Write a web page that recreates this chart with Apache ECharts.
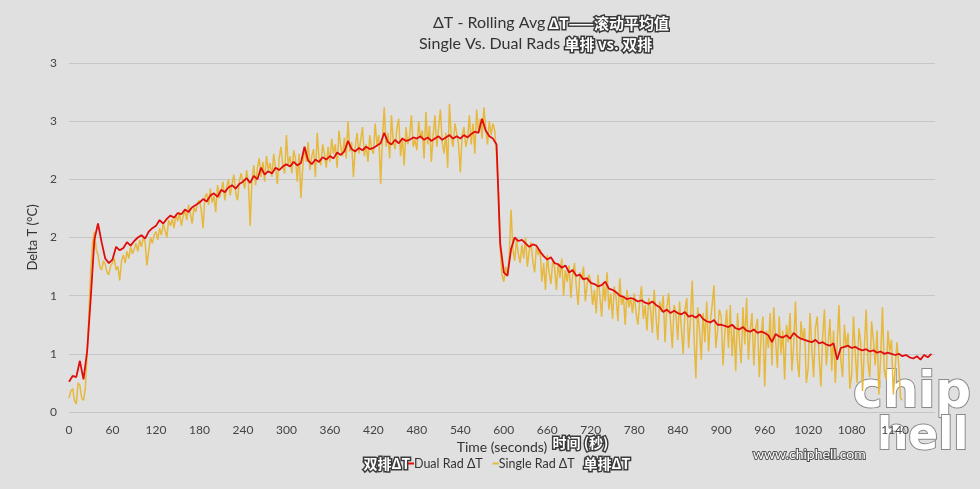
<!DOCTYPE html>
<html>
<head>
<meta charset="utf-8">
<script src="https://cdn.jsdelivr.net/npm/echarts@6/dist/echarts.min.js"></script>
<style>
html,body{margin:0;padding:0;background:#e0e0e0;}
#chart{width:980px;height:489px;}
</style>
</head>
<body>
<div id="chart"></div>
<script>
// Sampling steps, in seconds
const DUAL_STEP = 5;
const SINGLE_STEP = 2.5;
const xTicks = [0,60,120,180,240,300,360,420,480,540,600,660,720,780,840,900,960,1020,1080,1140];
const seriesNames = ['Dual Rad ΔT', 'Single Rad ΔT'];

// Dual Rad ΔT (rolling avg), every 5 s from 0 s (one row = one minute)
const dualRad = [
  0.26,0.31,0.30,0.44,0.28,0.52,0.98,1.48,1.62,1.46,1.32,1.28,
  1.31,1.42,1.39,1.41,1.46,1.43,1.47,1.50,1.52,1.49,1.55,1.58,
  1.60,1.65,1.62,1.66,1.69,1.67,1.71,1.70,1.74,1.72,1.76,1.78,
  1.80,1.83,1.81,1.86,1.88,1.85,1.91,1.89,1.93,1.95,1.92,1.96,
  1.98,2.01,1.97,2.03,2.00,2.10,2.04,2.07,2.05,2.10,2.08,2.11,
  2.13,2.11,2.15,2.12,2.14,2.28,2.16,2.13,2.17,2.15,2.19,2.17,
  2.20,2.18,2.23,2.21,2.24,2.33,2.26,2.24,2.27,2.25,2.28,2.26,
  2.27,2.29,2.31,2.40,2.32,2.30,2.34,2.31,2.35,2.33,2.34,2.36,
  2.35,2.37,2.34,2.36,2.33,2.35,2.37,2.34,2.36,2.38,2.35,2.37,
  2.35,2.38,2.36,2.39,2.41,2.40,2.52,2.42,2.37,2.35,2.30,1.45,
  1.20,1.17,1.40,1.50,1.47,1.48,1.45,1.42,1.44,1.43,1.38,1.34,
  1.31,1.33,1.28,1.27,1.24,1.26,1.20,1.22,1.17,1.18,1.14,1.15,
  1.11,1.10,1.08,1.09,1.12,1.06,1.05,1.03,1.00,0.99,0.97,0.98,
  0.97,0.95,0.96,0.94,0.93,0.95,0.92,0.90,0.86,0.88,0.85,0.87,
  0.85,0.84,0.86,0.82,0.83,0.81,0.84,0.80,0.78,0.77,0.79,0.75,
  0.75,0.74,0.73,0.75,0.72,0.71,0.73,0.70,0.69,0.71,0.68,0.69,
  0.68,0.66,0.60,0.67,0.65,0.64,0.66,0.63,0.68,0.65,0.63,0.62,
  0.61,0.60,0.62,0.59,0.60,0.58,0.57,0.59,0.45,0.55,0.56,0.57,
  0.55,0.56,0.54,0.53,0.54,0.52,0.53,0.51,0.52,0.50,0.51,0.50,
  0.49,0.50,0.48,0.49,0.47,0.46,0.48,0.45,0.49,0.47,0.50
];

// Single Rad ΔT, every 2.5 s from 0 s (one row = one minute)
const singleRad = [
  0.12,0.18,0.20,0.10,0.07,0.25,0.23,0.12,0.10,0.20,0.50,0.85,1.22,1.45,1.55,1.40,1.35,1.25,1.22,1.30,1.27,1.20,1.18,1.26,
  1.28,1.32,1.22,1.25,1.13,1.30,1.35,1.28,1.38,1.32,1.42,1.36,1.40,1.45,1.38,1.48,1.42,1.50,1.46,1.26,1.38,1.50,1.45,1.52,
  1.55,1.48,1.58,1.52,1.62,1.56,1.50,1.65,1.60,1.66,1.58,1.70,1.64,1.72,1.60,1.68,1.74,1.65,1.78,1.70,1.62,1.76,1.72,1.80,
  1.82,1.74,1.58,1.85,1.88,1.78,1.92,1.80,1.86,1.72,1.95,1.84,1.90,1.98,1.82,1.93,2.00,1.86,1.96,2.04,1.88,1.82,1.98,2.05,
  2.05,1.92,2.08,1.98,1.60,2.00,2.12,1.95,2.10,2.18,2.02,2.15,1.98,2.20,2.08,2.14,2.02,2.22,2.10,1.96,2.18,2.28,2.12,2.05,
  2.38,2.12,2.20,2.05,2.25,2.18,1.98,2.22,1.84,2.10,2.28,2.15,2.32,2.08,2.20,2.26,2.02,2.40,2.18,2.12,2.30,2.22,2.10,2.28,
  2.15,2.35,2.22,2.30,2.10,2.42,2.28,2.20,2.36,2.18,2.50,2.24,2.32,2.02,2.28,2.40,2.22,2.34,2.45,2.20,2.30,2.15,2.38,2.26,
  2.22,2.48,2.30,2.38,1.96,2.35,2.62,2.28,2.40,2.18,2.55,2.32,2.26,2.44,2.52,2.20,2.36,2.12,2.45,2.30,2.38,2.55,2.28,2.34,
  2.25,2.50,2.35,2.42,2.18,2.58,2.30,2.46,2.15,2.38,2.55,2.28,2.44,2.60,2.32,2.22,2.40,2.10,2.65,2.36,2.28,2.48,2.40,2.30,
  2.06,2.38,2.45,2.28,2.35,2.55,2.30,2.48,2.22,2.60,2.40,2.52,2.35,2.62,2.45,2.30,2.50,2.38,2.48,2.42,2.20,1.90,1.40,1.18,
  1.12,1.25,1.18,1.35,1.74,1.40,1.30,1.48,1.36,1.28,1.44,1.32,1.50,1.25,1.38,1.46,1.30,1.20,1.42,1.35,1.40,1.12,1.28,1.05,
  1.35,1.20,1.10,1.30,1.25,1.05,1.28,1.15,1.32,1.00,1.22,1.12,1.26,0.98,1.18,1.28,1.08,0.92,1.20,1.14,1.25,0.95,1.10,1.18,
  1.12,0.92,1.05,0.85,1.18,1.00,0.82,1.10,0.95,1.20,0.88,1.02,0.80,1.08,0.98,0.78,1.15,0.92,1.00,0.75,1.05,0.90,0.98,0.85,
  1.02,0.85,0.75,0.95,1.08,0.80,0.92,0.70,0.98,0.88,0.68,1.05,0.82,0.62,0.95,0.86,1.00,0.60,0.90,1.02,0.78,0.55,0.92,0.85,
  0.62,0.95,0.72,0.50,0.88,0.98,0.55,0.80,1.13,0.65,0.29,0.90,0.70,0.45,0.85,0.60,0.95,0.52,0.78,0.92,1.09,0.55,0.70,0.88,
  0.82,0.40,0.68,0.88,0.55,0.92,0.48,0.75,0.35,0.85,0.62,0.42,0.90,0.58,0.98,0.45,0.70,0.85,0.40,0.72,0.80,0.30,0.65,0.82,
  0.22,0.70,0.55,0.85,0.40,0.90,0.62,0.38,0.82,0.50,0.70,0.28,0.75,0.60,0.85,0.35,0.58,0.95,0.45,0.30,0.78,0.62,0.72,0.25,
  0.38,0.85,0.55,0.30,0.72,0.82,0.48,0.22,0.65,0.88,0.40,0.58,0.80,0.35,0.70,0.25,0.60,0.92,0.45,0.30,0.75,0.55,0.68,0.20,
  0.32,0.82,0.50,0.25,0.72,0.60,0.18,0.55,0.88,0.42,0.30,0.78,0.62,0.40,0.70,0.15,0.48,0.90,0.35,0.28,0.70,0.52,0.62,0.15,
  0.15,0.60,0.40,0.12,0.10
];

const toPairs = (arr, step) => arr.map((v, i) => [i * step, v]);

const FONT = 'Lato, "Noto Sans", sans-serif';
const CJK = '"Noto Sans CJK SC", sans-serif';
const cnStyle = {
  fill: '#ffffff', stroke: '#3a3a3a', lineWidth: 3,
  font: 'bold 14px ' + CJK
};

const chart = echarts.init(document.getElementById('chart'), null, {renderer: 'canvas'});
chart.setOption({
  backgroundColor: '#e0e0e0',
  animation: false,
  title: [
    {text: 'ΔT - Rolling Avg', left: 433, top: 15, padding: 0,
     textStyle: {fontFamily: FONT, fontSize: 16, fontWeight: 'normal', color: '#333'}},
    {text: 'Single Vs. Dual Rads', left: 419, top: 36, padding: 0,
     textStyle: {fontFamily: FONT, fontSize: 16, fontWeight: 'normal', color: '#333'}}
  ],
  grid: {left: 69, right: 45, top: 63, bottom: 77},
  legend: {
    data: seriesNames,
    left: 408, top: 457, padding: 0,
    itemWidth: 6, itemHeight: 2, itemGap: 10,
    icon: 'rect',
    textStyle: {fontFamily: FONT, fontSize: 12.5, color: '#333', padding: [0,0,0,-5]}
  },
  xAxis: {
    type: 'value', min: 0, max: 1195, interval: 60,
    name: 'Time (seconds)', nameLocation: 'middle', nameGap: 27,
    nameTextStyle: {fontFamily: FONT, fontSize: 14, color: '#333'},
    axisLine: {show: false}, axisTick: {show: false},
    splitLine: {show: false},
    axisLabel: {fontFamily: FONT, fontSize: 12, color: '#444', margin: 12, showMaxLabel: false,
      formatter: v => xTicks.includes(v) ? String(v) : ''}
  },
  yAxis: {
    type: 'value', min: 0, max: 3, interval: 0.5,
    name: 'Delta T (°C)', nameLocation: 'middle', nameGap: 15,
    nameTextStyle: {fontFamily: FONT, fontSize: 13, color: '#333'},
    axisLine: {show: false}, axisTick: {show: false},
    splitLine: {lineStyle: {color: '#c6c6c6', width: 1}},
    axisLabel: {fontFamily: FONT, fontSize: 12, color: '#444', margin: 12,
      formatter: v => String(Math.round(v))}
  },
  series: [
    {name: seriesNames[1], type: 'line', data: toPairs(singleRad, SINGLE_STEP), showSymbol: false,
     lineStyle: {color: '#e6b83d', width: 1.5}, itemStyle: {color: '#e6b83d'}, z: 2},
    {name: seriesNames[0], type: 'line', data: toPairs(dualRad, DUAL_STEP), showSymbol: false,
     lineStyle: {color: '#e00d0d', width: 1.8}, itemStyle: {color: '#e00d0d'}, z: 3}
  ],
  graphic: [
    {type: 'text', left: 547, top: 14, style: Object.assign({text: 'ΔT——滚动平均值'}, cnStyle, {font: 'bold 15px ' + CJK})},
    {type: 'text', left: 563, top: 35, style: Object.assign({text: '单排 vs. 双排'}, cnStyle, {font: 'bold 15px ' + CJK})},
    {type: 'text', left: 551, top: 434, style: Object.assign({text: '时间 (秒)'}, cnStyle)},
    {type: 'text', left: 362, top: 455, style: Object.assign({text: '双排ΔT'}, cnStyle)},
    {type: 'text', left: 582, top: 455, style: Object.assign({text: '单排ΔT'}, cnStyle)},
    {type: 'text', left: 752, top: 446, style: {text: 'www.chiphell.com', fill: '#ffffff', stroke: '#555', lineWidth: 2, font: '14px ' + FONT}},
    {type: 'text', left: 852, top: 368, style: {text: 'chip', fill: '#ffffff', stroke: '#8a8a8a', lineWidth: 2, font: 'bold 50px "DejaVu Sans"'}},
    {type: 'text', left: 876, top: 415, style: {text: 'hell', fill: '#ffffff', stroke: '#8a8a8a', lineWidth: 2, font: 'bold 44px "DejaVu Sans"'}}
  ]
});
</script>
</body>
</html>
